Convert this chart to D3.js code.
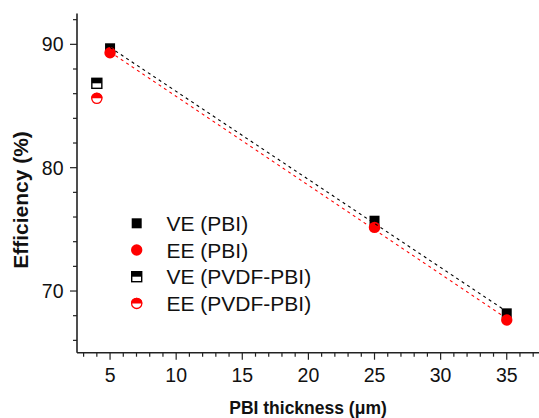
<!DOCTYPE html>
<html>
<head>
<meta charset="utf-8">
<script src="https://cdn.jsdelivr.net/npm/d3@7"></script>
<style>
  html, body { margin: 0; padding: 0; background: #fff; }
  svg { display: block; font-family: "Liberation Sans", Arial, sans-serif; }
</style>
</head>
<body>
<svg id="chart" width="539" height="418"></svg>
<script>
// PBI membrane series
const pbiThickness = [5, 25, 35];
const vePbi = [89.68, 75.70, 68.19];
const eePbi = [89.32, 75.16, 67.65];

// PVDF-PBI composite membrane
const pvdfThickness = [4];
const vePvdf = [86.84];
const eePvdf = [85.62];

const xTicks = [5, 10, 15, 20, 25, 30, 35];
const yTicks = [70, 80, 90];
const legendLabels = ["VE (PBI)", "EE (PBI)", "VE (PVDF-PBI)", "EE (PVDF-PBI)"];

const svg = d3.select("#chart");
const x = d3.scaleLinear().domain([2.5, 37.5]).range([77, 539.8]);
const y = d3.scaleLinear().domain([65, 92.5]).range([352.7, 13.5]);
const axisColor = "#222";

// minor ticks
const xMinor = d3.range(3, 38, 1).filter(v => !xTicks.includes(v));
const yMinor = d3.range(66, 93, 2).filter(v => !yTicks.includes(v));

const gx = svg.append("g").attr("transform", `translate(0,${y(65)})`);
gx.append("line").attr("x1", x(2.5)).attr("x2", x(37.5)).attr("stroke", axisColor).attr("stroke-width", 1.6);
gx.selectAll(".minor").data(xMinor).enter().append("line")
  .attr("x1", d => x(d)).attr("x2", d => x(d)).attr("y1", 0).attr("y2", 4)
  .attr("stroke", axisColor).attr("stroke-width", 1.2);
gx.selectAll(".major").data(xTicks).enter().append("line")
  .attr("x1", d => x(d)).attr("x2", d => x(d)).attr("y1", 0).attr("y2", 7)
  .attr("stroke", axisColor).attr("stroke-width", 1.2);
gx.selectAll("text").data(xTicks).enter().append("text")
  .attr("x", d => x(d)).attr("y", 29.5).attr("text-anchor", "middle")
  .attr("font-size", 19.5).attr("fill", "#111").text(d => d);

const gy = svg.append("g").attr("transform", `translate(${x(2.5)},0)`);
gy.append("line").attr("y1", y(65)).attr("y2", y(92.5)).attr("stroke", axisColor).attr("stroke-width", 1.6);
gy.selectAll(".minor").data(yMinor).enter().append("line")
  .attr("y1", d => y(d)).attr("y2", d => y(d)).attr("x1", 0).attr("x2", -4)
  .attr("stroke", axisColor).attr("stroke-width", 1.2);
gy.selectAll(".major").data(yTicks).enter().append("line")
  .attr("y1", d => y(d)).attr("y2", d => y(d)).attr("x1", 0).attr("x2", -7)
  .attr("stroke", axisColor).attr("stroke-width", 1.2);
gy.selectAll("text").data(yTicks).enter().append("text")
  .attr("x", -13.5).attr("y", d => y(d)).attr("dy", "0.35em").attr("text-anchor", "end")
  .attr("font-size", 19.5).attr("fill", "#111").text(d => d);

// axis titles
svg.append("text").attr("x", 308).attr("y", 414).attr("text-anchor", "middle")
  .attr("font-size", 17.5).attr("font-weight", "bold").attr("fill", "#111")
  .text("PBI thickness (\u03bcm)");
svg.append("text").attr("transform", "translate(28,200) rotate(-90)").attr("text-anchor", "middle")
  .attr("font-size", 21).attr("font-weight", "bold").attr("fill", "#111")
  .text("Efficiency (%)");

// marker helpers
const SQ = 10, R = 5.7;
function square(g, cx, cy, half) {
  if (half) {
    g.append("rect").attr("x", cx - SQ / 2).attr("y", cy - SQ / 2).attr("width", SQ).attr("height", SQ)
      .attr("fill", "#fff").attr("stroke", "#000").attr("stroke-width", 1.4);
    g.append("rect").attr("x", cx - SQ / 2).attr("y", cy - SQ / 2).attr("width", SQ).attr("height", SQ / 2)
      .attr("fill", "#000");
  } else {
    g.append("rect").attr("x", cx - SQ / 2).attr("y", cy - SQ / 2).attr("width", SQ).attr("height", SQ)
      .attr("fill", "#000");
  }
}
function circle(g, cx, cy, half) {
  if (half) {
    g.append("circle").attr("cx", cx).attr("cy", cy).attr("r", R - 0.6)
      .attr("fill", "#fff").attr("stroke", "red").attr("stroke-width", 1.3);
    g.append("path")
      .attr("d", `M${cx - R},${cy} A${R},${R} 0 0 1 ${cx + R},${cy} Z`)
      .attr("fill", "red");
  } else {
    g.append("circle").attr("cx", cx).attr("cy", cy).attr("r", R).attr("fill", "red");
  }
}

const marks = svg.append("g");
pbiThickness.forEach((t, i) => square(marks, x(t), y(vePbi[i]), false));
pvdfThickness.forEach((t, i) => square(marks, x(t), y(vePvdf[i]), true));
pbiThickness.forEach((t, i) => circle(marks, x(t), y(eePbi[i]), false));
pvdfThickness.forEach((t, i) => circle(marks, x(t), y(eePvdf[i]), true));

// least-squares trend lines through the PBI series
function fit(xs, ys) {
  const mx = d3.mean(xs), my = d3.mean(ys);
  const sxy = d3.sum(xs, (v, i) => (v - mx) * (ys[i] - my));
  const sxx = d3.sum(xs, v => (v - mx) ** 2);
  const b = sxy / sxx;
  return v => my + b * (v - mx);
}
const ends = d3.extent(pbiThickness);
const line = d3.line().x(d => x(d[0])).y(d => y(d[1]));
[[eePbi, "red"], [vePbi, "#000"]].forEach(([ys, c]) => {
  const f = fit(pbiThickness, ys);
  svg.append("path").attr("d", line(ends.map(v => [v, f(v)])))
    .attr("fill", "none").attr("stroke", c).attr("stroke-width", 1.1)
    .attr("stroke-dasharray", "3,3.5");
});

// legend
const lg = svg.append("g");
legendLabels.forEach((lab, i) => {
  const cy = 223.3 + i * 26.7;
  if (i === 0) square(lg, 136.7, cy, false);
  if (i === 1) circle(lg, 136.7, cy, false);
  if (i === 2) square(lg, 136.7, cy, true);
  if (i === 3) circle(lg, 136.7, cy, true);
  lg.append("text").attr("x", 166.5).attr("y", cy).attr("dy", "0.36em")
    .attr("font-size", 21).attr("fill", "#111").text(lab);
});
</script>
</body>
</html>
